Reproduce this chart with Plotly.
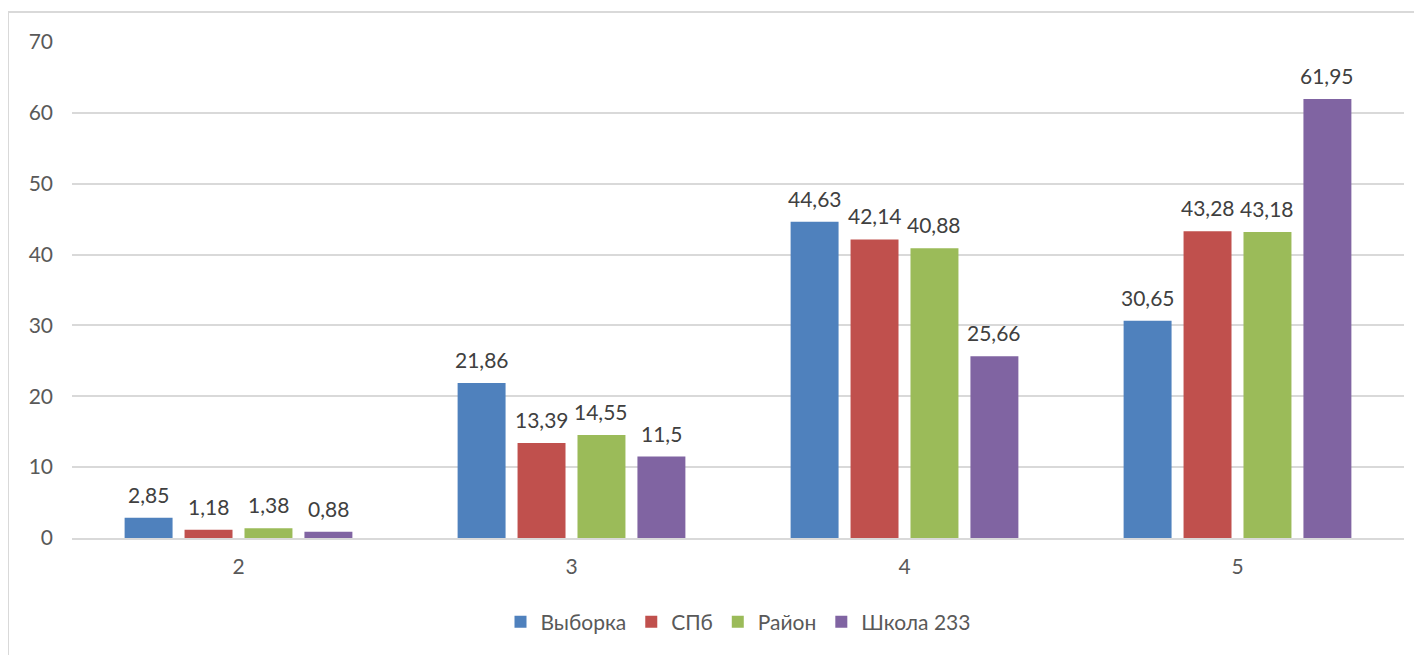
import plotly.graph_objects as go

categories = ["2", "3", "4", "5"]
series_names = ["Выборка", "СПб", "Район", "Школа 233"]
vyborka = [2.85, 21.86, 44.63, 30.65]
spb = [1.18, 13.39, 42.14, 43.28]
rayon = [1.38, 14.55, 40.88, 43.18]
shkola = [0.88, 11.5, 25.66, 61.95]
colors = ["#4F81BD", "#C0504D", "#9BBB59", "#8064A2"]

OFF = 8  # page offset of the figure
W, H = 1422 - OFF, 655 - OFF
ML, MR, MT, MB = 72 - OFF, 18, 42 - OFF, 117
FONT = "Lato"
FS = 21
BARGAP = 0.28
NSER = len(series_names)

fig = go.Figure()
annotations = []
all_series = [vyborka, spb, rayon, shkola]
for j, (name, vals, col) in enumerate(zip(series_names, all_series, colors)):
    fig.add_trace(go.Bar(
        name=name, x=categories, y=vals, marker_color=col,
        marker_line_width=0,
    ))
    slot = (1 - BARGAP) / NSER
    for i, v in enumerate(vals):
        annotations.append(dict(
            x=i + (j - (NSER - 1) / 2) * slot, y=v, xref="x", yref="y",
            text=f"{v:g}".replace(".", ","), showarrow=False,
            yanchor="bottom", yshift=9,
            font=dict(size=FS, color="#404040", family=FONT),
        ))

pw = W - ML - MR
ph = H - MT - MB
def px_x(p):
    return (p - OFF - ML) / pw
def px_y(p):
    return (H - MB - (p - OFF)) / ph

fig.update_layout(
    width=W, height=H,
    margin=dict(l=ML, r=MR, t=MT, b=MB),
    paper_bgcolor="white", plot_bgcolor="white",
    barmode="group", bargap=BARGAP, bargroupgap=0.2,
    font=dict(family=FONT, size=FS, color="#595959"),
    showlegend=True,
    legend=dict(orientation="h", x=0.5, xanchor="center", y=px_y(622), yanchor="middle",
                font=dict(size=FS, color="#595959"), itemwidth=30, traceorder="normal"),
    xaxis=dict(showgrid=False, showline=True, linecolor="#D9D9D9", linewidth=2,
               ticks="", ticklabelstandoff=9, tickfont=dict(size=FS, color="#595959")),
    yaxis=dict(range=[0, 70], dtick=10, showgrid=True, gridcolor="#D9D9D9", gridwidth=2,
               zeroline=False, showline=False, ticks="", ticklabelstandoff=18,
               tickfont=dict(size=FS, color="#595959")),
    annotations=annotations,
    shapes=[dict(type="rect", xref="paper", yref="paper",
                 x0=px_x(8), x1=px_x(1440), y0=px_y(680), y1=px_y(12),
                 line=dict(color="#D9D9D9", width=2), fillcolor="rgba(0,0,0,0)", layer="below")],
)

fig.write_html("out.html")
